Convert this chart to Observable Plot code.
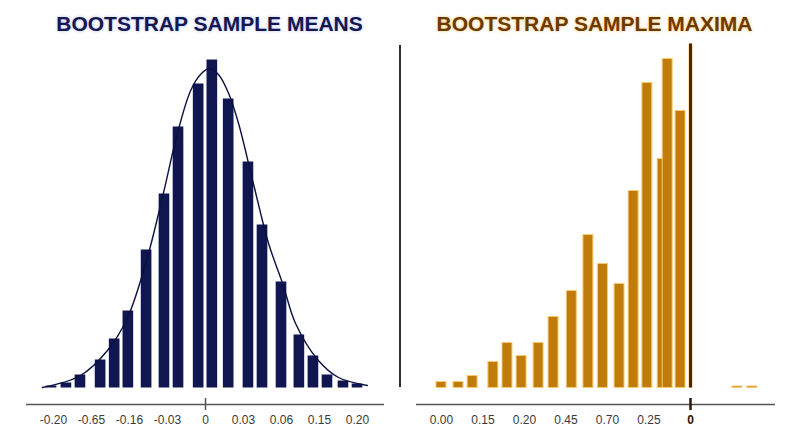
<!DOCTYPE html>
<html>
<head>
<meta charset="utf-8">
<script src="https://cdn.jsdelivr.net/npm/d3@7"></script>
<script src="https://cdn.jsdelivr.net/npm/@observablehq/plot@0.6"></script>
<style>
  body { margin: 0; background: #fff; }
  #wrap { position: relative; width: 800px; height: 447px; display: flex; overflow: hidden; }
  .col { width: 400px; position: relative; }
  .title { height: 27px; padding-top: 13px; font: bold 21px "Liberation Sans", Arial, sans-serif; line-height: 21px; text-align: center; white-space: nowrap; position: relative; }
  #sep { position: absolute; left: 399px; top: 45px; width: 2px; height: 342px; background: #333; }
</style>
</head>
<body>
<div id="wrap">
  <div class="col">
    <div class="title" style="color:#15174d; left:9.5px; text-shadow:0 0 3px rgba(110,130,255,0.55);">BOOTSTRAP SAMPLE MEANS</div>
    <div id="left"></div>
  </div>
  <div class="col">
    <div class="title" style="color:#6b3a00; left:-5.5px; text-shadow:0 0 3px rgba(255,165,30,0.75);">BOOTSTRAP SAMPLE MAXIMA</div>
    <div id="right"></div>
  </div>
  <div id="sep"></div>
</div>
<script>
// ---------- LEFT: bootstrap sample means ----------
const meansTicks = [-4, -3, -2, -1, 0, 1, 2, 3, 4];
const meansLabels = ["-0.20", "-0.65", "-0.16", "-0.03", "0", "0.03", "0.06", "0.15", "0.20"];
const meansBins = [-4.05, -3.66, -3.29, -2.76, -2.39, -2.03, -1.55, -1.08, -0.71, -0.18,
                   0.18, 0.61, 1.13, 1.50, 2.00, 2.47, 2.84, 3.21, 3.63, 4.00];
const meansCounts = [2, 5, 13, 28, 49, 77, 138, 194, 261, 304,
                     328, 289, 226, 163, 106, 53, 32, 13, 7, 4];
const curveX = [-4.29, -3.29, -2.58, -2.05, -1.53, -1.11, -0.74, -0.39, -0.12, 0.10, 0.35, 0.61, 0.87, 1.26, 1.66, 2.03, 2.37, 2.97, 3.50, 4.26];
const curveY = [0.5, 12.5, 37.5, 70.5, 130.5, 194.5, 254.5, 297.5, 314, 319.5, 313, 294.5, 264.5, 204.5, 144.5, 104.5, 64.5, 27.5, 10.5, 2.5];

// ---------- RIGHT: bootstrap sample maxima ----------
const maxTicks = [0, 1, 2, 3, 4, 5];
const maxLabels = ["0.00", "0.15", "0.20", "0.45", "0.70", "0.25"];
const observedTick = 6;
const observedLabel = "0";
const maxBins = [0.00, 0.41, 0.75, 1.25, 1.59, 1.93, 2.34, 2.70, 3.14, 3.54,
                 3.89, 4.29, 4.63, 4.96, 5.33, 5.45, 5.76, 7.13, 7.49];
const maxCounts = [6, 6, 12, 26, 45, 32, 45, 71, 97, 153,
                   124, 104, 197, 305, 229, 329, 277, 1.5, 1.5];

const yDomain = [-16.5, 344];
const common = {
  width: 400, height: 407, marginTop: 3.5, marginBottom: 43,
  style: { fontFamily: "'Liberation Sans', Arial, sans-serif", fontSize: "12px", background: "transparent", overflow: "visible" },
  y: { domain: yDomain, axis: null }
};

const meansData = meansBins.map((c, i) => ({ c, n: meansCounts[i] }));
const curveData = curveX.map((x, i) => ({ x, y: curveY[i] }));
const hwL = 0.14;

const left = Plot.plot({
  ...common,
  marginLeft: 26, marginRight: 16,
  x: { domain: [-4.71, 4.71], axis: null, label: null },
  marks: [
    Plot.rectY(meansData, { x1: d => d.c - hwL, x2: d => d.c + hwL, y: "n", fill: "#0f1650" }),
    Plot.line(curveData, { x: "x", y: "y", curve: "catmull-rom", stroke: "#0b1140", strokeWidth: 1.4 }),
    Plot.ruleY([yDomain[0]], { stroke: "#555", strokeWidth: 1.5 }),
    Plot.axisX(meansTicks, { label: null, tickSize: 0, tickPadding: 11, tickFormat: d => meansLabels[meansTicks.indexOf(d)], fill: "#3a3a3a", fontSize: 12 }),
    Plot.axisX([0], { label: null, tickSize: 12, dy: -6, tickFormat: () => "", stroke: "#555", strokeWidth: 1.5 })
  ]
});
document.getElementById("left").append(left);

const maxData = maxBins.map((c, i) => ({ c, n: maxCounts[i] }));
const hwR = 0.12;

const right = Plot.plot({
  ...common,
  marginLeft: 16, marginRight: 25,
  x: { domain: [-0.602, 8.048], axis: null, label: null },
  marks: [
    Plot.rectY(maxData, { x1: d => d.c - hwR, x2: d => d.c + hwR, y: "n", fill: "#c07c0b", stroke: "#fbc970", strokeWidth: 1 }),
    Plot.ruleX([observedTick], { y1: 0, y2: yDomain[1], stroke: "#ffd28a", strokeWidth: 5, strokeOpacity: 0.6 }),
    Plot.ruleX([observedTick], { y1: 0, y2: yDomain[1], stroke: "#4a2600", strokeWidth: 3 }),
    Plot.ruleY([yDomain[0]], { stroke: "#555", strokeWidth: 1.5 }),
    Plot.axisX(maxTicks, { label: null, tickSize: 0, tickPadding: 11, tickFormat: d => maxLabels[maxTicks.indexOf(d)], fill: "#3a3a3a", fontSize: 12 }),
    Plot.axisX([observedTick], { label: null, tickSize: 12, dy: -6, tickFormat: () => "", stroke: "#2e1700", strokeWidth: 2.5 }),
    Plot.axisX([observedTick], { label: null, tickSize: 0, tickPadding: 11, tickFormat: () => observedLabel, fill: "#2a1500", fontWeight: "bold", fontSize: 12 })
  ]
});
document.getElementById("right").append(right);
</script>
</body>
</html>
